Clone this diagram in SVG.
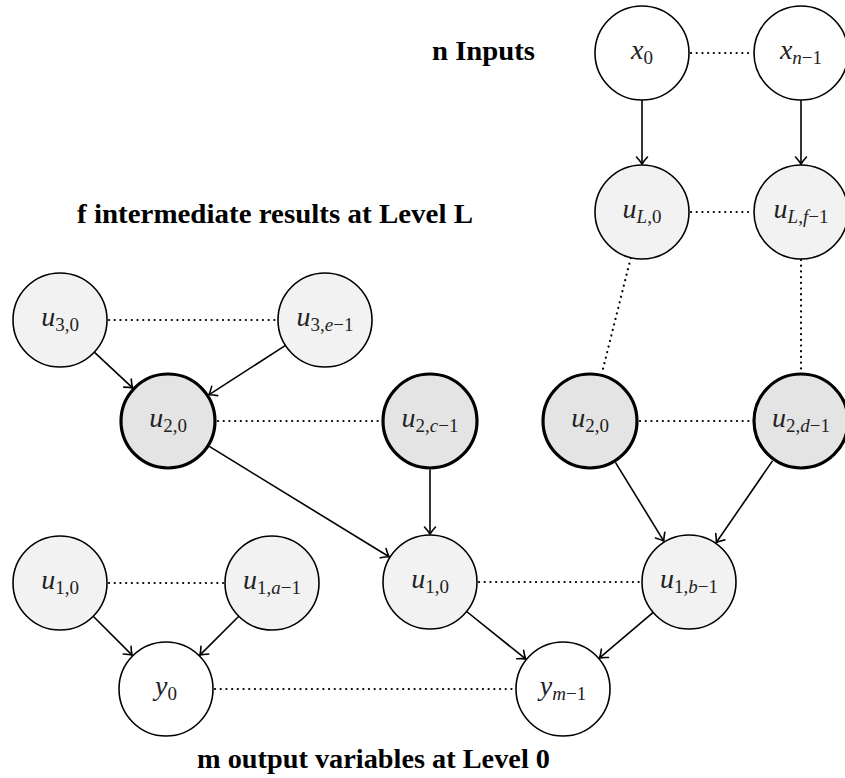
<svg xmlns="http://www.w3.org/2000/svg" width="845" height="778" viewBox="0 0 845 778">
  <style>
    .node { stroke: #000; stroke-width: 1.6; }
    .input { fill: #ffffff; }
    .inter { fill: #f2f2f2; }
    .lvl2 { fill: #e4e4e4; stroke-width: 3.2; }
    .math { font-family: "Liberation Serif", "DejaVu Serif", serif; font-style: italic; font-size: 28px; fill: #222; }
    .sub { font-size: 19px; font-style: normal; }
    .caption { font-family: "Liberation Serif", "DejaVu Serif", serif; font-weight: bold; font-size: 27px; fill: #000; }
    .edge { stroke: #000; stroke-width: 1.6; fill: none; }
    .dots { stroke: #000; stroke-width: 2.2; fill: none; stroke-dasharray: 0.1 5.6; stroke-linecap: round; }
  </style>
  <defs>
    <marker id="arrow" viewBox="-9 -7 11 14" markerWidth="11" markerHeight="14" refX="0" refY="0" orient="auto" markerUnits="userSpaceOnUse">
      <path d="M-7,-5.5 Q-2.5,-1.4 0,0 Q-2.5,1.4 -7,5.5" fill="none" stroke="#000" stroke-width="1.6" stroke-linecap="round"/>
    </marker>
  </defs>

  <rect width="845" height="778" fill="#ffffff"/>

  <!-- captions -->
  <text class="caption" x="432" y="60" textLength="103" lengthAdjust="spacingAndGlyphs">n Inputs</text>
  <text class="caption" x="77" y="223" textLength="396" lengthAdjust="spacingAndGlyphs">f intermediate results at Level L</text>
  <text class="caption" x="197" y="768" textLength="353" lengthAdjust="spacingAndGlyphs">m output variables at Level 0</text>

  <!-- connectors -->
  <g id="connectors">
    <line class="dots" x1="691" y1="53" x2="752" y2="53"/>
    <line class="dots" x1="691" y1="212" x2="752" y2="212"/>
    <line class="dots" x1="630.7" y1="258" x2="601.7" y2="374"/>
    <line class="dots" x1="801" y1="260" x2="801" y2="373"/>
    <line class="dots" x1="109" y1="320" x2="276" y2="320"/>
    <line class="dots" x1="218" y1="421" x2="381" y2="421"/>
    <line class="dots" x1="640" y1="421" x2="751" y2="421"/>
    <line class="dots" x1="109" y1="583" x2="223" y2="583"/>
    <line class="dots" x1="479" y1="582" x2="640" y2="582"/>
    <line class="dots" x1="215" y1="689" x2="514" y2="689"/>

    <line class="edge" x1="642" y1="100" x2="642" y2="164" marker-end="url(#arrow)"/>
    <line class="edge" x1="801" y1="100" x2="801" y2="164" marker-end="url(#arrow)"/>
    <line class="edge" x1="94.3" y1="352.1" x2="132.6" y2="387.9" marker-end="url(#arrow)"/>
    <line class="edge" x1="285.5" y1="345.4" x2="208.8" y2="394.8" marker-end="url(#arrow)"/>
    <line class="edge" x1="209.3" y1="446.4" x2="389.1" y2="556.8" marker-end="url(#arrow)"/>
    <line class="edge" x1="430" y1="469.5" x2="430" y2="534" marker-end="url(#arrow)"/>
    <line class="edge" x1="615.4" y1="462.3" x2="663.8" y2="541.1" marker-end="url(#arrow)"/>
    <line class="edge" x1="772.5" y1="460.9" x2="716.3" y2="542.5" marker-end="url(#arrow)"/>
    <line class="edge" x1="93.2" y1="616.2" x2="132.1" y2="655.1" marker-end="url(#arrow)"/>
    <line class="edge" x1="238.8" y1="616.2" x2="199.9" y2="655.1" marker-end="url(#arrow)"/>
    <line class="edge" x1="466.6" y1="611.5" x2="525.6" y2="658.9" marker-end="url(#arrow)"/>
    <line class="edge" x1="653.2" y1="612.4" x2="599.6" y2="657.9" marker-end="url(#arrow)"/>
  </g>

  <!-- inputs -->
  <g id="x0">
    <circle class="node input" cx="642" cy="53" r="47"/>
    <text class="math" x="642" y="59" text-anchor="middle">x<tspan class="sub" dy="5">0</tspan></text>
  </g>
  <g id="xn1">
    <circle class="node input" cx="801" cy="53" r="47"/>
    <text class="math" x="801" y="59" text-anchor="middle">x<tspan class="sub" dy="5"><tspan font-style="italic">n</tspan>−1</tspan></text>
  </g>

  <!-- level L -->
  <g id="uL0">
    <circle class="node inter" cx="642" cy="212" r="47"/>
    <text class="math" x="642" y="218" text-anchor="middle">u<tspan class="sub" dy="5"><tspan font-style="italic">L</tspan>,0</tspan></text>
  </g>
  <g id="uLf1">
    <circle class="node inter" cx="801" cy="212" r="47"/>
    <text class="math" x="801" y="218" text-anchor="middle">u<tspan class="sub" dy="5"><tspan font-style="italic">L</tspan>,<tspan font-style="italic">f</tspan>−1</tspan></text>
  </g>

  <!-- level 3 -->
  <g id="u30">
    <circle class="node inter" cx="60" cy="320" r="47"/>
    <text class="math" x="60" y="326" text-anchor="middle">u<tspan class="sub" dy="5">3,0</tspan></text>
  </g>
  <g id="u3e1">
    <circle class="node inter" cx="325" cy="320" r="47"/>
    <text class="math" x="325" y="326" text-anchor="middle">u<tspan class="sub" dy="5">3,<tspan font-style="italic">e</tspan>−1</tspan></text>
  </g>

  <!-- level 2 -->
  <g id="u20a">
    <circle class="node lvl2" cx="168" cy="421" r="47"/>
    <text class="math" x="168" y="427" text-anchor="middle">u<tspan class="sub" dy="5">2,0</tspan></text>
  </g>
  <g id="u2c1">
    <circle class="node lvl2" cx="430" cy="421" r="47"/>
    <text class="math" x="430" y="427" text-anchor="middle">u<tspan class="sub" dy="5">2,<tspan font-style="italic">c</tspan>−1</tspan></text>
  </g>
  <g id="u20b">
    <circle class="node lvl2" cx="590" cy="421" r="47"/>
    <text class="math" x="590" y="427" text-anchor="middle">u<tspan class="sub" dy="5">2,0</tspan></text>
  </g>
  <g id="u2d1">
    <circle class="node lvl2" cx="801" cy="421" r="47"/>
    <text class="math" x="801" y="427" text-anchor="middle">u<tspan class="sub" dy="5">2,<tspan font-style="italic">d</tspan>−1</tspan></text>
  </g>

  <!-- level 1 -->
  <g id="u10a">
    <circle class="node inter" cx="60" cy="583" r="47"/>
    <text class="math" x="60" y="589" text-anchor="middle">u<tspan class="sub" dy="5">1,0</tspan></text>
  </g>
  <g id="u1a1">
    <circle class="node inter" cx="272" cy="583" r="47"/>
    <text class="math" x="272" y="589" text-anchor="middle">u<tspan class="sub" dy="5">1,<tspan font-style="italic">a</tspan>−1</tspan></text>
  </g>
  <g id="u10b">
    <circle class="node inter" cx="430" cy="582" r="47"/>
    <text class="math" x="430" y="588" text-anchor="middle">u<tspan class="sub" dy="5">1,0</tspan></text>
  </g>
  <g id="u1b1">
    <circle class="node inter" cx="689" cy="582" r="47"/>
    <text class="math" x="689" y="588" text-anchor="middle">u<tspan class="sub" dy="5">1,<tspan font-style="italic">b</tspan>−1</tspan></text>
  </g>

  <!-- outputs -->
  <g id="y0">
    <circle class="node input" cx="166" cy="689" r="47"/>
    <text class="math" x="166" y="695" text-anchor="middle">y<tspan class="sub" dy="5">0</tspan></text>
  </g>
  <g id="ym1">
    <circle class="node input" cx="563" cy="689" r="47"/>
    <text class="math" x="563" y="695" text-anchor="middle">y<tspan class="sub" dy="5"><tspan font-style="italic">m</tspan>−1</tspan></text>
  </g>
</svg>
